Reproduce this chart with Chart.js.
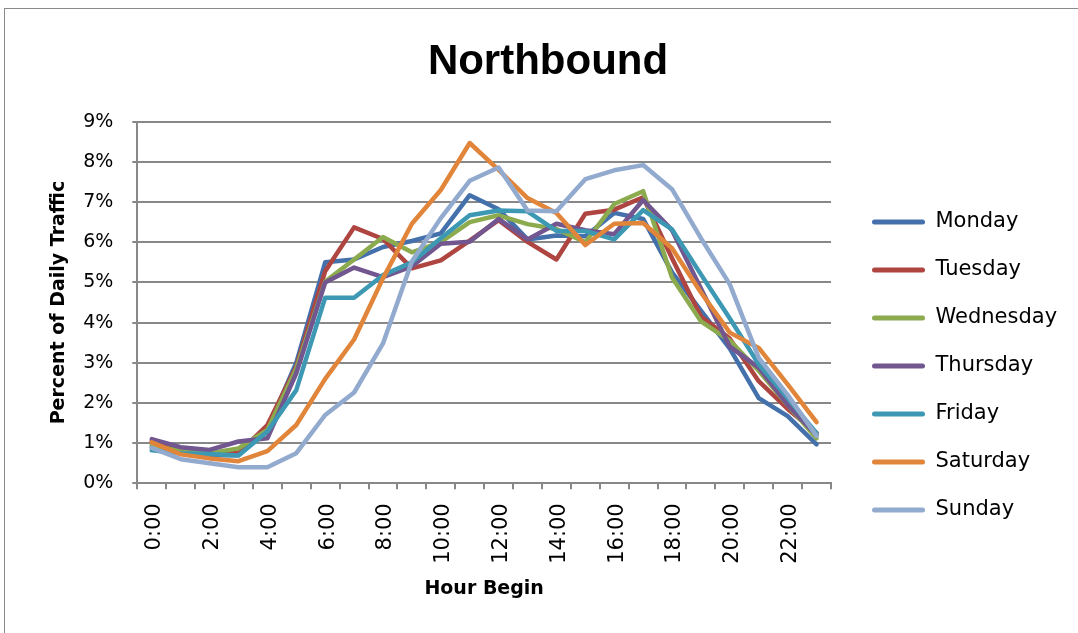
<!DOCTYPE html>
<html>
<head>
<meta charset="utf-8">
<title>Northbound</title>
<script src="https://cdn.jsdelivr.net/npm/chart.js@4.4.1/dist/chart.umd.min.js"></script>
<style>
  html, body { margin: 0; padding: 0; background: #fff; overflow: hidden; width: 1078px; height: 633px; }
  #frame { position: absolute; left: 4px; top: 8px; width: 1086px; height: 624px;
           border-left: 1px solid #8a8a8a; border-top: 1px solid #8a8a8a; }
  canvas { display: block; }
</style>
</head>
<body>
<div id="frame"><canvas id="chart" width="1086" height="624" style="width:1086px;height:624px"></canvas></div>
<script>
// Hour-of-day categories
const hours = ['0:00','1:00','2:00','3:00','4:00','5:00','6:00','7:00','8:00','9:00','10:00','11:00',
               '12:00','13:00','14:00','15:00','16:00','17:00','18:00','19:00','20:00','21:00','22:00','23:00'];

// Share of daily traffic per hour (%)
const monday    = [0.90, 0.75, 0.70, 0.70, 1.35, 3.00, 5.50, 5.57, 5.88, 6.03, 6.22, 7.17, 6.82, 6.07, 6.17, 6.15, 6.73, 6.58, 5.25, 4.30, 3.35, 2.12, 1.67, 0.97];
const tuesday   = [1.05, 0.82, 0.75, 0.75, 1.45, 2.90, 5.28, 6.37, 6.08, 5.35, 5.55, 6.04, 6.55, 6.01, 5.57, 6.71, 6.81, 7.12, 5.60, 4.15, 3.60, 2.54, 1.85, 1.25];
const wednesday = [0.95, 0.80, 0.75, 0.87, 1.33, 2.85, 5.02, 5.57, 6.13, 5.75, 6.00, 6.50, 6.67, 6.45, 6.33, 6.00, 6.95, 7.27, 5.12, 4.03, 3.55, 2.80, 1.95, 1.12];
const thursday  = [1.10, 0.90, 0.83, 1.04, 1.12, 2.74, 5.00, 5.37, 5.13, 5.40, 5.96, 6.01, 6.58, 6.07, 6.46, 6.30, 6.20, 7.05, 6.30, 4.85, 3.40, 2.88, 1.95, 1.20];
const friday    = [0.82, 0.75, 0.73, 0.69, 1.29, 2.32, 4.62, 4.62, 5.18, 5.50, 6.10, 6.67, 6.79, 6.77, 6.28, 6.28, 6.07, 6.80, 6.32, 5.20, 4.10, 2.96, 2.12, 1.25];
const saturday  = [1.02, 0.72, 0.62, 0.55, 0.80, 1.45, 2.60, 3.58, 5.10, 6.46, 7.30, 8.47, 7.80, 7.10, 6.73, 5.93, 6.46, 6.48, 5.85, 4.75, 3.75, 3.37, 2.46, 1.52];
const sunday    = [0.88, 0.60, 0.50, 0.40, 0.40, 0.75, 1.70, 2.26, 3.48, 5.52, 6.60, 7.53, 7.86, 6.79, 6.77, 7.57, 7.79, 7.92, 7.32, 6.10, 4.95, 3.12, 2.20, 1.18];

const dayNames  = ['Monday', 'Tuesday', 'Wednesday', 'Thursday', 'Friday', 'Saturday', 'Sunday'];
const dayValues = [monday, tuesday, wednesday, thursday, friday, saturday, sunday];
const dayColors = ['#4470AC', '#AE4541', '#8CAA4E', '#72568F', '#3D99B3', '#E1853A', '#93AACF'];

// Y axis ticks (%)
const yMin = 0, yMax = 9, yStep = 1;

const W = 1086, H = 624;
const LEGEND_LEFT = 840;

const datasets = dayNames.map((name, i) => ({
  label: name,
  data: dayValues[i],
  borderColor: dayColors[i],
  backgroundColor: dayColors[i],
  borderWidth: 4.5,
  pointRadius: 0,
  pointHoverRadius: 0,
  tension: 0,
  borderJoinStyle: 'round',
  borderCapStyle: 'round',
  order: dayNames.length - i   // later days drawn on top
}));

const tickFont = { family: 'DejaVu Sans', size: 21 };
const yTickFont = { family: 'DejaVu Sans', size: 19 };
const axisTitleFont = { family: 'DejaVu Sans', size: 19, weight: 'bold' };
const gridGray = '#888888';

new Chart(document.getElementById('chart'), {
  type: 'line',
  data: { labels: hours, datasets },
  options: {
    responsive: false,
    animation: false,
    devicePixelRatio: 1,
    layout: { padding: 0 },
    plugins: {
      title: {
        display: true,
        text: 'Northbound',
        color: '#000',
        font: { family: 'Liberation Sans', size: 42, weight: 'bold' },
        padding: { top: 27.8, bottom: 34.5 }
      },
      legend: {
        position: 'right',
        align: 'center',
        title: { display: true, text: ' ', font: { size: 10 }, padding: { top: 78, bottom: 0 } },
        labels: {
          boxWidth: 53,
          boxHeight: 5,
          padding: 27,
          color: '#000',
          font: { family: 'DejaVu Sans', size: 21 },
          sort: (a, b) => a.datasetIndex - b.datasetIndex,
          generateLabels(chart) {
            const items = Chart.defaults.plugins.legend.labels.generateLabels(chart);
            items.forEach(it => {
              it.fillStyle = it.strokeStyle;
              it.lineWidth = 0;
              it.borderRadius = 2.5;
            });
            return items;
          }
        }
      },
      tooltip: { enabled: false }
    },
    scales: {
      x: {
        offset: true,
        grid: { offset: true, drawOnChartArea: false, drawTicks: true, tickLength: 6, color: gridGray, lineWidth: 2 },
        border: { display: true, color: gridGray, width: 2 },
        ticks: {
          autoSkip: false,
          minRotation: 90,
          maxRotation: 90,
          padding: 14,
          labelOffset: 3,
          color: '#000',
          font: tickFont,
          callback: (v, i) => (i % 2 === 0 ? hours[i] : '')
        },
        title: { display: true, text: 'Hour Begin', color: '#000', font: axisTitleFont, padding: { top: 0, bottom: 32.6 } },
        afterFit: s => { s.height = 149.7; }
      },
      y: {
        min: yMin,
        max: yMax,
        ticks: { stepSize: yStep, padding: 19, color: '#000', font: yTickFont, callback: v => v + '%' },
        grid: { color: gridGray, lineWidth: 2, drawTicks: true, tickLength: 5 },
        border: { display: true, color: gridGray, width: 2 },
        title: { display: true, text: 'Percent of Daily Traffic', color: '#000', font: axisTitleFont, padding: { top: 43, bottom: 0 } },
        afterFit: s => { s.width = 132.3; }
      },
      // spacing between plot and legend (hidden, only reserves width)
      gapR: {
        type: 'linear', position: 'right', display: false,
        afterFit: s => { s.width = 14; }
      },
      // space right of the legend (hidden, only reserves width)
      edgeR: {
        type: 'linear', position: 'right', display: false, weight: 2000,
        afterFit: s => {
          const lw = s.chart.legend ? s.chart.legend.width : 0;
          s.width = Math.max(0, W - LEGEND_LEFT - lw);
        }
      }
    }
  }
});
</script>
</body>
</html>
